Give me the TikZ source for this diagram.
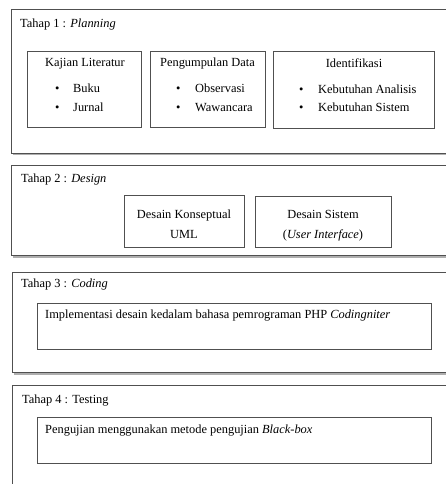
\documentclass[tikz,border=0pt]{standalone}
\usepackage{fontspec}
\setmainfont{Liberation Serif}
\usetikzlibrary{shadows}
\definecolor{edge}{HTML}{505050}
\tikzset{
  outerbox/.style={draw=edge, line width=0.9pt, fill=white, anchor=north west, inner sep=0pt,
    drop shadow={shadow xshift=1.5pt, shadow yshift=-2.5pt, opacity=0.45, fill=black!70}},
  innerbox/.style={draw=edge, line width=0.8pt, fill=white, anchor=north west, inner sep=0pt},
  txt/.style={inner sep=0pt, anchor=base west, font=\fontsize{12.4}{14}\selectfont},
  ctxt/.style={inner sep=0pt, anchor=base, font=\fontsize{12.4}{14}\selectfont},
}
\begin{document}
\begin{tikzpicture}[x=1pt,y=-1pt]
\useasboundingbox (0,0) rectangle (445,484);
\fill[white] (-10,-10) rectangle (460,500);
% Stage 1
\node[outerbox, minimum width=530pt, minimum height=143pt] (s1) at (11,9.5) {};
\node[txt] (t1) at (20,28) {Tahap 1 : \textit{Planning}};
\node[innerbox, minimum width=114pt, minimum height=76pt] (a) at (27,51) {};
\node[innerbox, minimum width=115pt, minimum height=76pt] (b) at (150,51) {};
\node[innerbox, minimum width=161pt, minimum height=77pt] (c) at (273,51) {};
\node[ctxt] (at) at (85,67) {Kajian Literatur};
\node[txt] (ab1) at (55,93) {\textbullet};
\node[txt] (ab1t) at (73,93) {Buku};
\node[txt] (ab2) at (55,111) {\textbullet};
\node[txt] (ab2t) at (73,111) {Jurnal};
\node[ctxt] (bt) at (207.5,67) {Pengumpulan Data};
\node[txt] (bb1) at (176,93) {\textbullet};
\node[txt] (bb1t) at (195,93) {Observasi};
\node[txt] (bb2) at (176,111) {\textbullet};
\node[txt] (bb2t) at (195,111) {Wawancara};
\node[ctxt] (ct) at (354,68) {Identifikasi};
\node[txt] (cb1) at (299,94) {\textbullet};
\node[txt] (cb1t) at (318,94) {Kebutuhan Analisis};
\node[txt] (cb2) at (299,111) {\textbullet};
\node[txt] (cb2t) at (318,111) {Kebutuhan Sistem};
% Stage 2
\node[outerbox, minimum width=530pt, minimum height=90pt] (s2) at (11,165) {};
\node[txt] (t2) at (21,182) {Tahap 2 : \textit{Design}};
\node[innerbox, minimum width=120pt, minimum height=52pt] (d) at (124,195) {};
\node[innerbox, minimum width=136pt, minimum height=51pt] (e) at (255,196) {};
\node[ctxt] (dt1) at (184,218) {Desain Konseptual};
\node[ctxt] (dt2) at (184,238) {UML};
\node[ctxt] (et1) at (323,218) {Desain Sistem};
\node[ctxt] (et2) at (323,238) {(\textit{User Interface})};
% Stage 3
\node[outerbox, minimum width=530pt, minimum height=100pt] (s3) at (12,272) {};
\node[txt] (t3) at (21,287) {Tahap 3 : \textit{Coding}};
\node[innerbox, minimum width=394pt, minimum height=46pt] (f) at (37,303) {};
\node[txt] (ft) at (45,318) {Implementasi desain kedalam bahasa pemrograman PHP \textit{Codingniter}};
% Stage 4
\node[outerbox, minimum width=530pt, minimum height=120pt] (s4) at (12,385) {};
\node[txt] (t4) at (22,403) {Tahap 4 : Testing};
\node[innerbox, minimum width=394pt, minimum height=46pt] (g) at (37,417) {};
\node[txt] (gt) at (45,433) {Pengujian menggunakan metode pengujian \textit{Black-box}};
\end{tikzpicture}
\end{document}
